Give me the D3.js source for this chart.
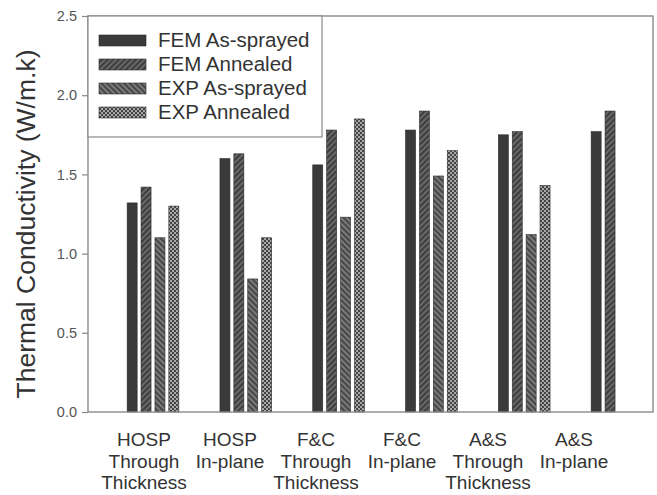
<!DOCTYPE html>
<html>
<head>
<meta charset="utf-8">
<script src="https://cdn.jsdelivr.net/npm/d3@7"></script>
<style>
  body { margin: 0; background: #fff; }
  svg { font-family: "Liberation Sans", Arial, sans-serif; }
</style>
</head>
<body>
<div id="container"></div>
<script>
/* CONSTANTS AND GLOBALS */
const width = 657,
  height = 495;

// plot frame
const frameLeft = 88, frameRight = 653, frameTop = 16, frameBottom = 412;

/* DATA */
const categories = ["HOSP TT", "HOSP IP", "F&C TT", "F&C IP", "A&S TT", "A&S IP"];
const categoryLabels = [
  ["HOSP", "Through", "Thickness"],
  ["HOSP", "In-plane"],
  ["F&C", "Through", "Thickness"],
  ["F&C", "In-plane"],
  ["A&S", "Through", "Thickness"],
  ["A&S", "In-plane"]
];
const seriesNames = ["FEM As-sprayed", "FEM Annealed", "EXP As-sprayed", "EXP Annealed"];
const femAsSprayed = [1.32, 1.60, 1.56, 1.78, 1.75, 1.77];
const femAnnealed = [1.42, 1.63, 1.78, 1.90, 1.77, 1.90];
const expAsSprayed = [1.10, 0.84, 1.23, 1.49, 1.12, null];
const expAnnealed = [1.30, 1.10, 1.85, 1.65, 1.43, null];
const yTicks = [0.0, 0.5, 1.0, 1.5, 2.0, 2.5];

const seriesValues = [femAsSprayed, femAnnealed, expAsSprayed, expAnnealed];
const fills = ["#3a3a3a", "url(#hatchFwd)", "url(#hatchBack)", "url(#checker)"];

// flatten into rows for the join
const rows = [];
categories.forEach((c, i) => {
  seriesValues.forEach((vals, j) => {
    if (vals[i] != null) rows.push({ category: c, series: seriesNames[j], value: vals[i] });
  });
});

/* SCALES */
const yScale = d3.scaleLinear().domain([0, 2.5]).range([frameBottom, frameTop]);

// bar groups sit on a wider grid than the frame
const xScale = d3.scaleBand().domain(categories).range([106.6, 663.4]);
const xSub = d3.scaleBand().domain(seriesNames).range([-27.8, 27.8])
  .paddingInner(0.28).paddingOuter(0.14);
// category labels are spaced a bit tighter than the groups
const labelScale = d3.scalePoint().domain(categories).range([144, 574]);
const fillScale = d3.scaleOrdinal().domain(seriesNames).range(fills);

/* SVG */
const svg = d3.select("#container")
  .append("svg")
  .attr("width", width)
  .attr("height", height);

const defs = svg.append("defs");

const p1 = defs.append("pattern")
  .attr("id", "hatchFwd")
  .attr("patternUnits", "userSpaceOnUse")
  .attr("width", 4).attr("height", 4)
  .attr("patternTransform", "rotate(45)");
p1.append("rect").attr("width", 4).attr("height", 4).attr("fill", "#3e3e3e");
p1.append("line").attr("x1", 1).attr("x2", 1).attr("y1", 0).attr("y2", 4)
  .attr("stroke", "#7a7a7a").attr("stroke-width", 1.4);

const p2 = defs.append("pattern")
  .attr("id", "hatchBack")
  .attr("patternUnits", "userSpaceOnUse")
  .attr("width", 4).attr("height", 4)
  .attr("patternTransform", "rotate(-45)");
p2.append("rect").attr("width", 4).attr("height", 4).attr("fill", "#7a7a7a");
p2.append("line").attr("x1", 1).attr("x2", 1).attr("y1", 0).attr("y2", 4)
  .attr("stroke", "#3a3a3a").attr("stroke-width", 1.6);

const p3 = defs.append("pattern")
  .attr("id", "checker")
  .attr("patternUnits", "userSpaceOnUse")
  .attr("width", 4).attr("height", 4);
p3.append("rect").attr("width", 4).attr("height", 4).attr("fill", "#a8a8a8");
p3.append("rect").attr("width", 2).attr("height", 2).attr("fill", "#444");
p3.append("rect").attr("x", 2).attr("y", 2).attr("width", 2).attr("height", 2).attr("fill", "#444");

// Bars
svg.append("g")
  .selectAll("rect")
  .data(rows)
  .join("rect")
  .attr("x", d => xScale(d.category) + xScale.bandwidth() / 2 + xSub(d.series))
  .attr("y", d => yScale(d.value))
  .attr("width", xSub.bandwidth())
  .attr("height", d => yScale(0) - yScale(d.value))
  .attr("fill", d => fillScale(d.series))
  .attr("stroke", "#2a2a2a")
  .attr("stroke-width", 0.6);

// Y axis
const yAxis = d3.axisLeft(yScale)
  .tickValues(yTicks)
  .tickFormat(d3.format(".1f"))
  .tickSize(6)
  .tickPadding(5);

const gy = svg.append("g")
  .attr("transform", `translate(${frameLeft},0)`)
  .call(yAxis);
gy.select(".domain").remove();
gy.selectAll("line").attr("stroke", "#888").attr("stroke-width", 1.2);
gy.selectAll("text").attr("fill", "#555").style("font-size", "14.5px");

// Frame
svg.append("rect")
  .attr("x", frameLeft).attr("y", frameTop)
  .attr("width", frameRight - frameLeft).attr("height", frameBottom - frameTop)
  .attr("fill", "none")
  .attr("stroke", "#8a8a8a")
  .attr("stroke-width", 1.4);

// Y title
svg.append("text")
  .attr("transform", "translate(35, 224)rotate(-90)")
  .attr("text-anchor", "middle")
  .attr("fill", "#333")
  .style("font-size", "26.5px")
  .text("Thermal Conductivity (W/m.k)");

// Category labels
const lab = svg.append("g")
  .selectAll("text")
  .data(categories)
  .join("text")
  .attr("text-anchor", "middle")
  .attr("fill", "#333")
  .style("font-size", "19px")
  .attr("transform", d => `translate(${labelScale(d)},446)`);
lab.selectAll("tspan")
  .data((d, i) => categoryLabels[i])
  .join("tspan")
  .attr("x", 0)
  .attr("y", (d, i) => i * 21.5)
  .text(d => d);

// Legend
const legend = svg.append("g");
legend.append("rect")
  .attr("x", frameLeft).attr("y", frameTop)
  .attr("width", 234).attr("height", 121)
  .attr("fill", "#fff")
  .attr("stroke", "#8a8a8a")
  .attr("stroke-width", 1.2);

const item = legend.selectAll("g.item")
  .data(seriesNames)
  .join("g")
  .attr("class", "item")
  .attr("transform", (d, i) => `translate(99, ${40 + i * 24})`);
item.append("rect")
  .attr("y", -5)
  .attr("width", 47).attr("height", 11)
  .attr("fill", d => fillScale(d))
  .attr("stroke", "#2a2a2a")
  .attr("stroke-width", 0.6);
item.append("text")
  .attr("x", 59)
  .attr("y", 7)
  .attr("fill", "#333")
  .style("font-size", "20.5px")
  .text(d => d);
</script>
</body>
</html>
